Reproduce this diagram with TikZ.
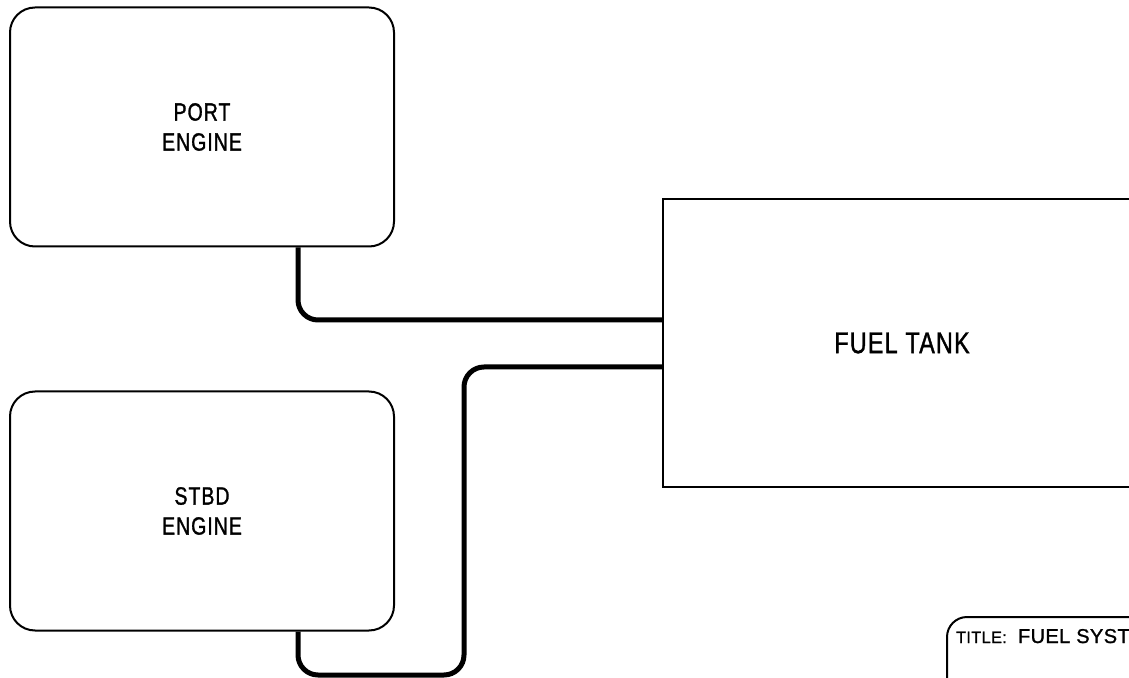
\documentclass[tikz,border=0pt]{standalone}
\usepackage{fontspec}
\newfontfamily\cadfont[FakeStretch=0.78,FakeBold=1.2,LetterSpace=4]{Liberation Sans}
\newfontfamily\cadwide[FakeBold=1.2,LetterSpace=2]{Liberation Sans}
\begin{document}
\begin{tikzpicture}[x=.5pt,y=-.5pt,line width=1pt,
  every node/.style={font=\cadfont,inner sep=0pt},
  engine/.style={draw,rounded corners=12.5pt,minimum width=192pt,minimum height=119.5pt,
    align=center,font=\cadfont\fontsize{12.5}{15}\selectfont},
  tankbox/.style={draw,minimum width=239pt,minimum height=144pt,
    font=\cadfont\fontsize{15}{17}\selectfont},
  pipe/.style={line width=2.5pt,rounded corners=10pt}]
  \path[use as bounding box] (0,0) rectangle (1129,678);
  \node[engine] (port) at (202,127) {PORT\\ENGINE};
  \node[engine] (stbd) at (202,511) {STBD\\ENGINE};
  \node[tankbox] (tank) at (902,343) {FUEL TANK};
  \coordinate (bend) at (464,675);
  \draw[pipe] ([xshift=48pt]port.south) |- ([yshift=11.5pt]tank.west);
  \draw[pipe] ([xshift=48pt]stbd.south) |- (bend) |- ([yshift=-12pt]tank.west);
  % title block
  \draw[rounded corners=10pt] (947,700) |- (1160,617);
  \node[anchor=base west,font=\cadwide\fontsize{8.2}{10}\selectfont] (titlekey) at (955,643) {TITLE:};
  \node[anchor=base west,font=\cadwide\fontsize{10}{12}\selectfont] (titletext) at (1017,643) {FUEL SYST};
\end{tikzpicture}
\end{document}
